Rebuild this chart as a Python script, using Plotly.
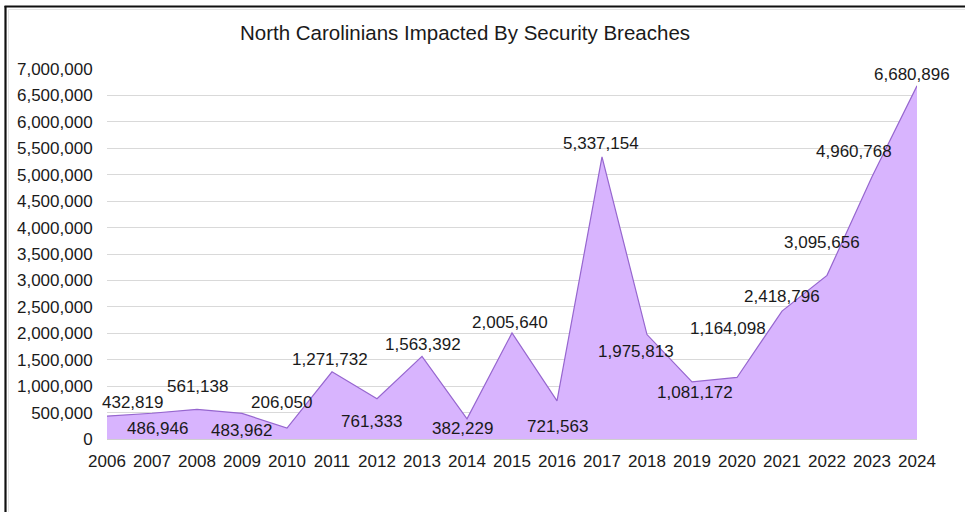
import plotly.graph_objects as go

# Yearly count of North Carolinians affected by reported security breaches
years = [2006, 2007, 2008, 2009, 2010, 2011, 2012, 2013, 2014, 2015,
         2016, 2017, 2018, 2019, 2020, 2021, 2022, 2023, 2024]
impacted = [432819, 486946, 561138, 483962, 206050, 1271732, 761333, 1563392,
            382229, 2005640, 721563, 5337154, 1975813, 1081172, 1164098,
            2418796, 3095656, 4960768, 6680896]

# Per-label nudges (pixels) so the value labels sit clear of the outline
label_dx = [25, 5, 0, -1, -6, -2, -6, 1, -5, -2, 0, -1, -11, 3, -9, 0, -5, -18, -5]
label_dy = [14, -15, 23, -17, 26, 12, -23, 12, -10, 10, -26, 13, -17, -11, 49, 15, 33, 25, 11]

FONT = "Liberation Sans, Arial, sans-serif"
TEXT = "#1a1a1a"

fig = go.Figure()
fig.add_trace(go.Scatter(
    x=years, y=impacted, mode="lines", fill="tozeroy",
    line=dict(color="#9666cf", width=1.2),
    fillcolor="#d8b4fe", hoverinfo="x+y", showlegend=False,
))

for yr, v, dx, dy in zip(years, impacted, label_dx, label_dy):
    fig.add_annotation(x=yr, y=v, text=f"{v:,}", showarrow=False,
                       xshift=dx, yshift=dy,
                       font=dict(family=FONT, size=17, color=TEXT))

# plot area spans 107..917 px horizontally and 69..439 px vertically
L, R, T, B = 107, 48, 69, 73
W, H = 965 - L - R, 512 - T - B
def px(xp):
    return (xp - L) / W
def py(yp):
    return (512 - B - yp) / H

shapes = [
    dict(type="line", xref="paper", yref="paper", x0=px(5.5), x1=px(5.5),
         y0=py(6), y1=py(520), line=dict(color="#111111", width=2.2)),
    dict(type="line", xref="paper", yref="paper", x0=px(4.5), x1=px(970),
         y0=py(6.5), y1=py(6.5), line=dict(color="#111111", width=2.2)),
    dict(type="line", xref="paper", yref="paper", x0=px(8.5), x1=px(8.5),
         y0=py(9.5), y1=py(520), line=dict(color="#e4e4e4", width=1)),
    dict(type="line", xref="paper", yref="paper", x0=px(8.5), x1=px(970),
         y0=py(9.5), y1=py(9.5), line=dict(color="#e4e4e4", width=1)),
]

fig.update_layout(
    width=965, height=512,
    margin=dict(l=L, r=R, t=T, b=B),
    paper_bgcolor="white", plot_bgcolor="white",
    font=dict(family=FONT, size=17, color=TEXT),
    title=dict(text="North Carolinians Impacted By Security Breaches",
               x=px(465), xref="paper", xanchor="center",
               y=1 - 33 / 512, yanchor="middle",
               font=dict(family=FONT, size=20.5, color=TEXT)),
    shapes=shapes,
    xaxis=dict(range=[2006, 2024], dtick=1, tick0=2006, showgrid=False,
               zeroline=False, showline=False, ticks="outside", ticklen=7,
               tickcolor="rgba(0,0,0,0)",
               tickfont=dict(family=FONT, size=17, color=TEXT)),
    yaxis=dict(range=[0, 7000000], dtick=500000, tickformat=",",
               showgrid=True, gridcolor="#d9d9d9", gridwidth=1,
               zeroline=True, zerolinecolor="#cfcfcf", zerolinewidth=1,
               ticks="outside", ticklen=10, tickcolor="rgba(0,0,0,0)",
               tickfont=dict(family=FONT, size=17, color=TEXT)),
)

fig.write_html("out.html")
